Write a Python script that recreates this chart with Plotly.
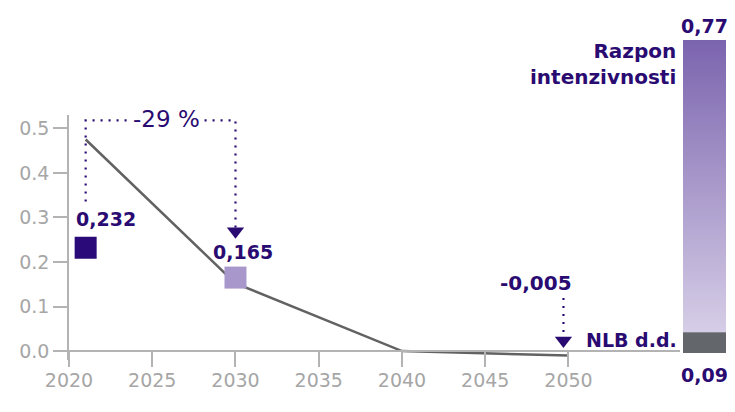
import plotly.graph_objects as go

# ---- data ----
years = [2021, 2030, 2040, 2050]
pathway = [0.475, 0.152, 0.0, -0.01]

point_years = [2021, 2030]
point_values = [0.232, 0.165]
point_labels = ["0,232", "0,165"]

change_label = "-29 %"
target_year = 2050
target_value = -0.005
target_label = "-0,005"

range_min = 0.09
range_max = 0.77
nlb_top = 0.135
range_min_label = "0,09"
range_max_label = "0,77"

x_ticks = [2020, 2025, 2030, 2035, 2040, 2045, 2050]
y_ticks = [0.0, 0.1, 0.2, 0.3, 0.4, 0.5]

# ---- style ----
INK = "#2A0B72"
GREY_TXT = "#A6A6A6"
AXIS = "#B3B3B3"
FONT = "DejaVu Sans"

PAGE = 8  # default page margin of the browser
W, H = 735 - 2 * PAGE, 412 - 2 * PAGE
L, R, T, B = 69 - PAGE, 1, 40 - PAGE, H - (360 - PAGE)
plot_w = W - L - R
plot_h = H - T - B
main_right = (680 - 69) / plot_w
main_top = (360 - 115) / plot_h
ymin, ymax = -0.02, 0.53
zero_pos = (0 - ymin) / (ymax - ymin) * main_top

fig = go.Figure()

# pathway line
fig.add_trace(go.Scatter(x=years, y=pathway, mode="lines",
                         line=dict(color="#626262", width=2.5),
                         hoverinfo="skip", showlegend=False))

# bracket (dotted)
bracket_top = 0.518
dot = "2px,6px"
fig.add_trace(go.Scatter(x=[point_years[0], point_years[0], point_years[1], point_years[1]],
                         y=[0.336, bracket_top, bracket_top, 0.275],
                         mode="lines", line=dict(color=INK, width=2.2, dash=dot),
                         showlegend=False, hoverinfo="skip"))
fig.add_trace(go.Scatter(x=[point_years[1]], y=[0.269], mode="markers",
                         marker=dict(symbol="triangle-down", size=15, color=INK),
                         showlegend=False, hoverinfo="skip", cliponaxis=False))

# target arrow
tx = target_year - 0.3
fig.add_trace(go.Scatter(x=[tx, tx], y=[0.119, 0.032], mode="lines",
                         line=dict(color=INK, width=2.2, dash=dot),
                         showlegend=False, hoverinfo="skip"))
fig.add_trace(go.Scatter(x=[tx], y=[0.0236], mode="markers",
                         marker=dict(symbol="triangle-down", size=15, color=INK),
                         showlegend=False, hoverinfo="skip", cliponaxis=False))

# squares
fig.add_trace(go.Scatter(x=point_years, y=point_values, mode="markers",
                         marker=dict(symbol="square", size=22,
                                     color=["#2A0A78", "#A897CB"]),
                         showlegend=False, hoverinfo="skip", cliponaxis=False))

# value labels
fig.add_annotation(x=point_years[0], y=point_values[0], text="<b>" + point_labels[0] + "</b>",
                   xanchor="left", yanchor="bottom", xshift=-12, yshift=16,
                   showarrow=False, font=dict(family=FONT, size=19, color=INK))
fig.add_annotation(x=point_years[1], y=point_values[1], text="<b>" + point_labels[1] + "</b>",
                   xanchor="center", yanchor="bottom", xshift=8, yshift=13,
                   showarrow=False, font=dict(family=FONT, size=19, color=INK))
fig.add_annotation(x=(point_years[0] + point_years[1]) / 2, y=bracket_top, text=change_label,
                   xanchor="center", yanchor="middle", xshift=6, yshift=1,
                   showarrow=False, bgcolor="white", borderpad=3,
                   font=dict(family=FONT, size=23, color=INK))
fig.add_annotation(x=tx, y=0.119, text="<b>" + target_label + "</b>",
                   xanchor="right", yanchor="bottom", xshift=11, yshift=1,
                   showarrow=False, font=dict(family=FONT, size=20, color=INK))

# intensity range bar
fig.add_trace(go.Scatter(x=[0, 1, 1, 0, 0],
                         y=[nlb_top, nlb_top, range_max, range_max, nlb_top],
                         xaxis="x2", yaxis="y2", mode="lines", fill="toself",
                         line=dict(width=0),
                         fillgradient=dict(type="vertical",
                                           colorscale=[[0, "#D6CEE7"], [1, "#7B64AE"]]),
                         showlegend=False, hoverinfo="skip"))
fig.add_trace(go.Scatter(x=[0, 1, 1, 0, 0],
                         y=[range_min, range_min, nlb_top, nlb_top, range_min],
                         xaxis="x2", yaxis="y2", mode="lines", fill="toself",
                         line=dict(width=0), fillcolor="#63666A",
                         showlegend=False, hoverinfo="skip"))
fig.add_annotation(x=0.5, y=range_max, xref="x2", yref="y2", text="<b>" + range_max_label + "</b>",
                   xanchor="center", yanchor="bottom", yshift=1, showarrow=False,
                   font=dict(family=FONT, size=19, color=INK))
fig.add_annotation(x=0.5, y=range_min, xref="x2", yref="y2", text="<b>" + range_min_label + "</b>",
                   xanchor="center", yanchor="top", yshift=-9, showarrow=False,
                   font=dict(family=FONT, size=19, color=INK))
fig.add_annotation(x=0, y=range_max, xref="x2", yref="y2",
                   text="<b>Razpon<br>intenzivnosti</b>", align="right",
                   xanchor="right", yanchor="top", xshift=-5, yshift=3, showarrow=False,
                   font=dict(family=FONT, size=20, color=INK))
fig.add_annotation(x=0, y=(range_min + nlb_top) / 2, xref="x2", yref="y2",
                   text="<b>NLB d.d.</b>", xanchor="right", yanchor="middle",
                   xshift=-4, yshift=3, showarrow=False,
                   font=dict(family=FONT, size=19, color=INK))

fig.update_layout(
    width=W, height=H,
    margin=dict(l=L, r=R, t=T, b=B),
    plot_bgcolor="white", paper_bgcolor="white",
    font=dict(family=FONT),
    xaxis=dict(range=[2020, 2056.7], domain=[0, main_right], anchor="free", position=zero_pos,
               tickvals=x_ticks, ticks="outside", ticklen=15, tickcolor=AXIS, tickwidth=1.5,
               ticklabelstandoff=-3,
               showline=True, linecolor=AXIS, linewidth=1.5, showgrid=False, zeroline=False,
               tickfont=dict(family=FONT, size=19, color=GREY_TXT)),
    yaxis=dict(range=[ymin, ymax], domain=[0, main_top],
               tickvals=y_ticks, ticktext=[f"{v:.1f}" for v in y_ticks],
               ticks="outside", ticklen=14, tickcolor=AXIS, tickwidth=1.5,
               showline=True, linecolor=AXIS, linewidth=1.5, showgrid=False, zeroline=False,
               tickfont=dict(family=FONT, size=19, color=GREY_TXT)),
    xaxis2=dict(range=[0, 1], domain=[(683 - 69) / plot_w, 1], anchor="y2",
                visible=False),
    yaxis2=dict(range=[range_min, range_max], domain=[(360 - 353) / plot_h, 1], anchor="x2",
                visible=False),
)

fig.write_html("out.html")
